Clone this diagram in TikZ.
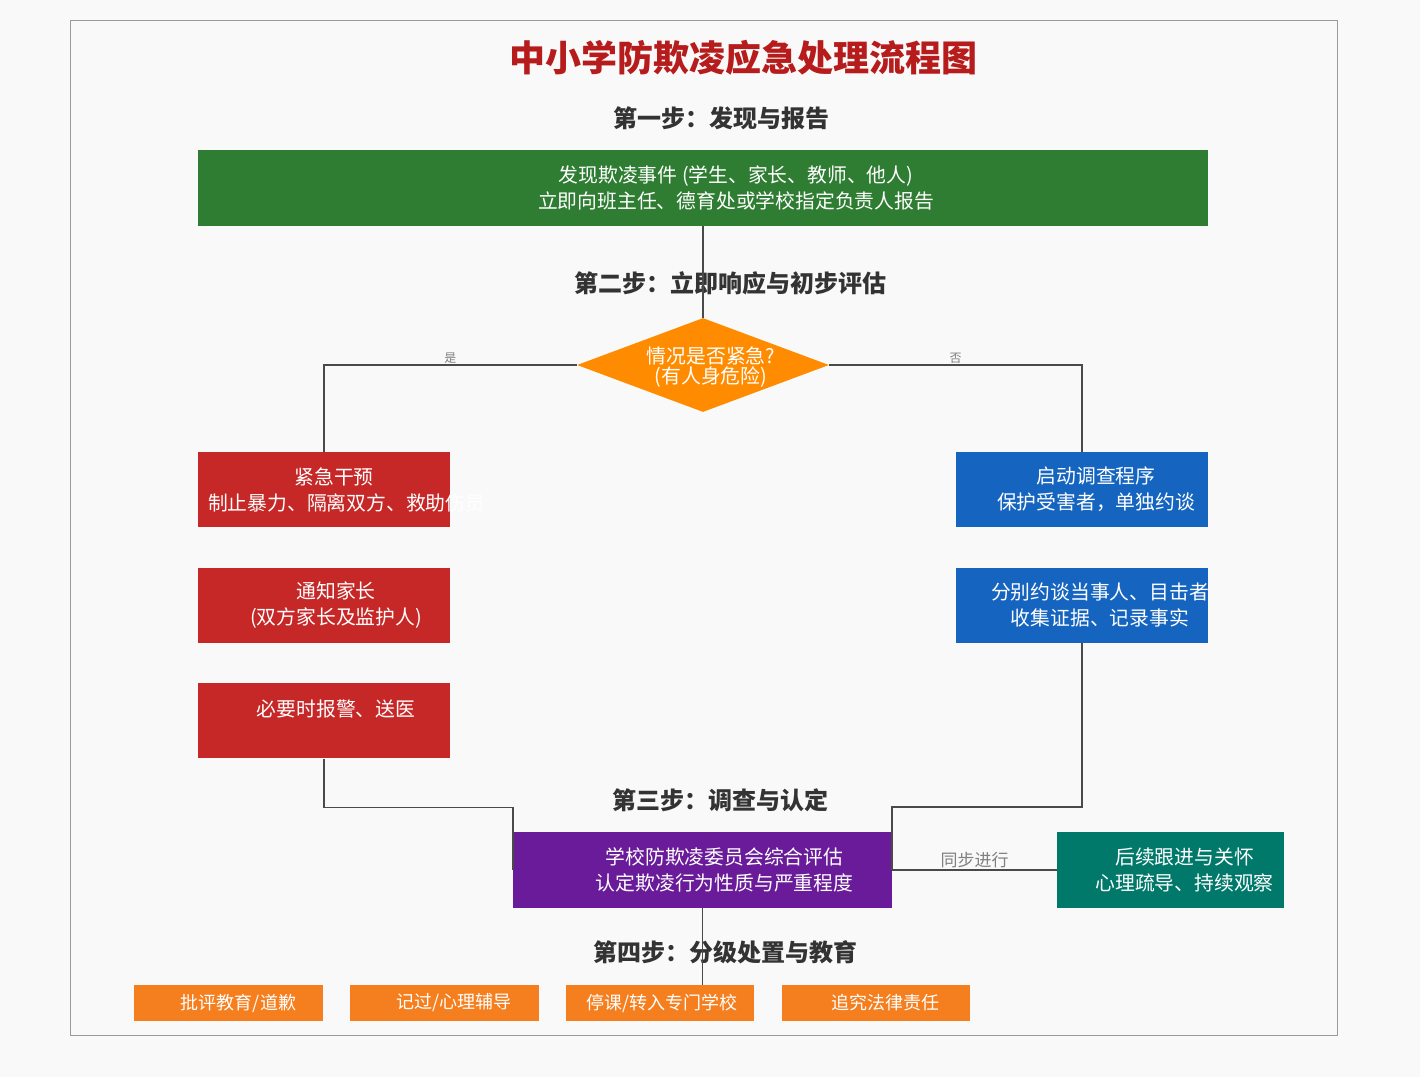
\documentclass[tikz,border=0pt]{standalone}
\usepackage{fontspec}
\setmainfont{Noto Sans CJK SC}
\usepackage{xcolor}
\usetikzlibrary{shapes.geometric}
\usetikzlibrary{positioning}

\definecolor{bgpage}{HTML}{F9F9F9}
\definecolor{framegray}{HTML}{9A9A9A}
\definecolor{titlered}{HTML}{B71C1C}
\definecolor{hdgray}{HTML}{333333}
\definecolor{lnkgray}{HTML}{4A4A4A}
\definecolor{stepgreen}{HTML}{2E7D32}
\definecolor{diaorange}{HTML}{FF8C00}
\definecolor{urgred}{HTML}{C62828}
\definecolor{invblue}{HTML}{1565C0}
\definecolor{compurple}{HTML}{6A1B9A}
\definecolor{careteal}{HTML}{00796B}
\definecolor{actorange}{HTML}{F57F1E}

\begin{document}
\begin{tikzpicture}[x=1pt,y=-1pt,-,semithick]
	\tikzstyle{box}=[draw=none, inner sep=0pt]
	\tikzstyle{txt}=[text=white, align=center, inner sep=0pt, font=\fontsize{19.8}{26}\selectfont]
	\tikzstyle{redbox}=[box, fill=urgred, minimum width=252pt, minimum height=75pt]
	\tikzstyle{bluebox}=[box, fill=invblue, minimum width=252pt, minimum height=75pt]
	\tikzstyle{actbox}=[box, fill=actorange, minimum height=36pt]
	\tikzstyle{acttxt}=[txt, font=\fontsize{18}{22}\selectfont]
	\tikzstyle{stephd}=[text=hdgray, inner sep=0pt, font=\fontsize{24}{28}\selectfont\bfseries]
	\tikzstyle{link}=[draw=lnkgray, line width=1.8pt]
	\tikzstyle{tag}=[text=gray, inner sep=1pt]

	% page
	\fill[bgpage] (0,0) rectangle (1420,1077);
	\useasboundingbox (0,0) rectangle (1420,1077);
	\draw[framegray, line width=1pt] (70,20) rectangle (1337,1035);

	\node[text=titlered, font=\fontsize{36}{40}\selectfont\bfseries] (title) at (743,58) {中小学防欺凌应急处理流程图};

	% step 1
	\node[stephd] (hd1) at (721,118) {第一步：发现与报告};
	\node[box, fill=stepgreen, minimum width=1010pt, minimum height=76pt] (find) at (703,188) {};
	\node[txt] (find-t) at ([xshift=33pt]find.center)
		{发现欺凌事件 (学生、家长、教师、他人)\\立即向班主任、德育处或学校指定负责人报告};

	% step 2
	\node[stephd] (hd2) at (730,283) {第二步：立即响应与初步评估};
	\node[box, diamond, fill=diaorange, aspect=2.68, minimum width=252pt, minimum height=94pt] (urgent) at (703,365) {};
	\node[txt, font=\fontsize{19.8}{20}\selectfont] (urgent-t) at ([xshift=8pt,yshift=-2pt]urgent.center) {情况是否紧急?\\(有人身危险)};

	\node[redbox] (r1) at (324,489.5) {};
	\node[redbox] (r2) [below=40pt of r1] {};
	\node[redbox] (r3) [below=40pt of r2] {};
	\node[txt, text width=252pt] (r1-t) at ([xshift=10pt]r1.center) {紧急干预\\制止暴力、隔离双方、救助伤员};
	\node[txt, text width=252pt] (r2-t) at ([xshift=12pt]r2.center) {通知家长\\(双方家长及监护人)};
	\node[txt, text width=252pt] (r3-t) at ([xshift=12pt,yshift=12pt]r3.center) {必要时报警、送医};

	\node[bluebox] (b1) at (1082,489.5) {};
	\node[bluebox] (b2) [below=40pt of b1] {};
	\node[txt, text width=252pt] (b1-t) at ([xshift=14pt]b1.center) {启动调查程序\\保护受害者，单独约谈};
	\node[txt, text width=252pt] (b2-t) at ([xshift=18pt]b2.center) {分别约谈当事人、目击者\\收集证据、记录事实};

	% step 3
	\node[stephd] (hd3) at (720,800) {第三步：调查与认定};
	\node[box, fill=compurple, minimum width=379pt, minimum height=76pt] (committee) at (702.5,870) {};
	\node[txt] (committee-t) at ([xshift=22pt]committee.center) {学校防欺凌委员会综合评估\\认定欺凌行为性质与严重程度};
	\node[box, fill=careteal, minimum width=227pt, minimum height=76pt] (care) at (1170.5,870) {};
	\node[txt] (care-t) at ([xshift=14pt]care.center) {后续跟进与关怀\\心理疏导、持续观察};

	% step 4
	\node[stephd] (hd4) at (725,952) {第四步：分级处置与教育};
	\node[actbox, minimum width=189pt] (o1) at (228.5,1003) {};
	\node[actbox, minimum width=189pt] (o2) [right=26pt of o1] {};
	\node[actbox, minimum width=188pt] (o3) [right=27pt of o2] {};
	\node[actbox, minimum width=188pt] (o4) [right=27pt of o3] {};
	\node[acttxt] at ([xshift=10pt]o1.center) {批评教育/道歉};
	\node[acttxt] at ([xshift=10pt]o2.center) {记过/心理辅导};
	\node[acttxt] at ([xshift=2pt]o3.center) {停课/转入专门学校};
	\node[acttxt] at ([xshift=10pt]o4.center) {追究法律责任};

	% connectors
	\path[link]
		(find.south) edge (urgent.north)
		(committee.south) edge (o3.north -| committee.south);
	\draw[link] (urgent.west) -| node[tag, pos=0.25, above, font=\fontsize{12}{12}\selectfont] {是} (r1.north);
	\draw[link] (urgent.east) -| node[tag, pos=0.25, above, font=\fontsize{12}{12}\selectfont] {否} (b1.north);
	\draw[link] (r3.south) -- ++(0,49) -| (committee.west);
	\draw[link] (b2.south) -- ++(0,164) -| (committee.east);
	\draw[link] (committee.east) -- node[tag, above=0pt, font=\fontsize{17}{17}\selectfont] {同步进行} (care.west);
\end{tikzpicture}
\end{document}
